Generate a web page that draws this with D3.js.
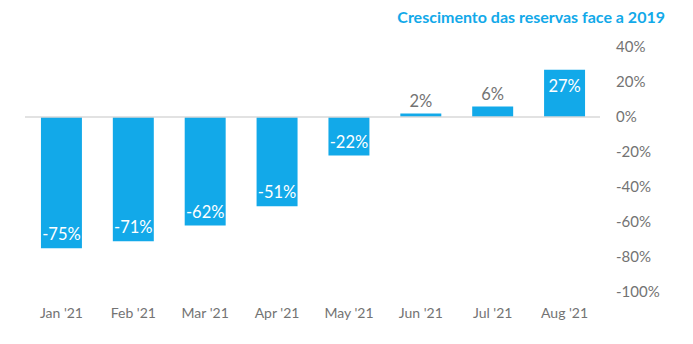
<!DOCTYPE html>
<html>
<head>
<meta charset="utf-8">
<script src="https://cdn.jsdelivr.net/npm/d3@7"></script>
<style>
  html, body { margin: 0; padding: 0; background: #fff; }
  svg { display: block; font-family: Lato, "Open Sans", sans-serif; }
</style>
</head>
<body>
<div id="chart"></div>
<script>
// Monthly growth of bookings vs 2019
const months = ["Jan '21", "Feb '21", "Mar '21", "Apr '21", "May '21", "Jun '21", "Jul '21", "Aug '21"];
const growth = [-75, -71, -62, -51, -22, 2, 6, 27];
const yTicks = [40, 20, 0, -20, -40, -60, -80, -100];
const title = "Crescimento das reservas face a 2019";

const width = 693;
const height = 344;
const blue = "#12a9e9";
const grey = "#737373";

const svg = d3.select("#chart")
    .append("svg")
    .attr("width", width)
    .attr("height", height);

const x = d3.scaleBand()
    .domain(months)
    .range([25.5, 600.5])
    .paddingInner(0.43)
    .paddingOuter(0.215);

const y = d3.scaleLinear()
    .domain([-100, 40])
    .range([292, 47]);

// Title
svg.append("text")
    .attr("x", 665)
    .attr("y", 23)
    .attr("text-anchor", "end")
    .attr("fill", blue)
    .attr("font-weight", "bold")
    .attr("font-size", 16)
    .text(title);

// Right value axis
const yAxis = svg.append("g")
    .attr("transform", "translate(600,0)")
    .call(d3.axisRight(y).tickValues(yTicks).tickSize(0).tickPadding(16).tickFormat(d => d + "%"));
yAxis.select(".domain").remove();
yAxis.selectAll("text")
    .attr("fill", grey)
    .attr("font-size", 15)
    .attr("font-family", "Lato, sans-serif");

// Month axis
const xAxis = svg.append("g")
    .attr("transform", "translate(0,300)")
    .call(d3.axisBottom(x).tickSize(0).tickPadding(8));
xAxis.select(".domain").remove();
xAxis.selectAll("text")
    .attr("fill", grey)
    .attr("font-size", 14)
    .attr("font-family", "Lato, sans-serif");

// Bars
const data = months.map((m, i) => ({ month: m, value: growth[i] }));

svg.append("g")
    .selectAll("rect")
    .data(data)
    .enter()
    .append("rect")
    .attr("x", d => x(d.month))
    .attr("width", x.bandwidth())
    .attr("y", d => y(Math.max(0, d.value)))
    .attr("height", d => Math.abs(y(d.value) - y(0)))
    .attr("fill", blue);

// Zero line
svg.append("line")
    .attr("x1", 25)
    .attr("x2", 600)
    .attr("y1", y(0))
    .attr("y2", y(0))
    .attr("stroke", "#d9d9d9")
    .attr("stroke-width", 1.5);

// Value labels: inside the bar end when it fits, above it otherwise
svg.append("g")
    .selectAll("text")
    .data(data)
    .enter()
    .append("text")
    .attr("x", d => x(d.month) + x.bandwidth() / 2)
    .attr("y", d => {
        if (d.value < 0) return y(d.value) - 8;
        if (d.value >= 10) return y(d.value) + 22;
        return y(d.value) - 6.5;
    })
    .attr("text-anchor", "middle")
    .attr("font-size", 16.5)
    .attr("fill", d => (d.value < 0 || d.value >= 10) ? "#ffffff" : grey)
    .text(d => d.value + "%");
</script>
</body>
</html>
